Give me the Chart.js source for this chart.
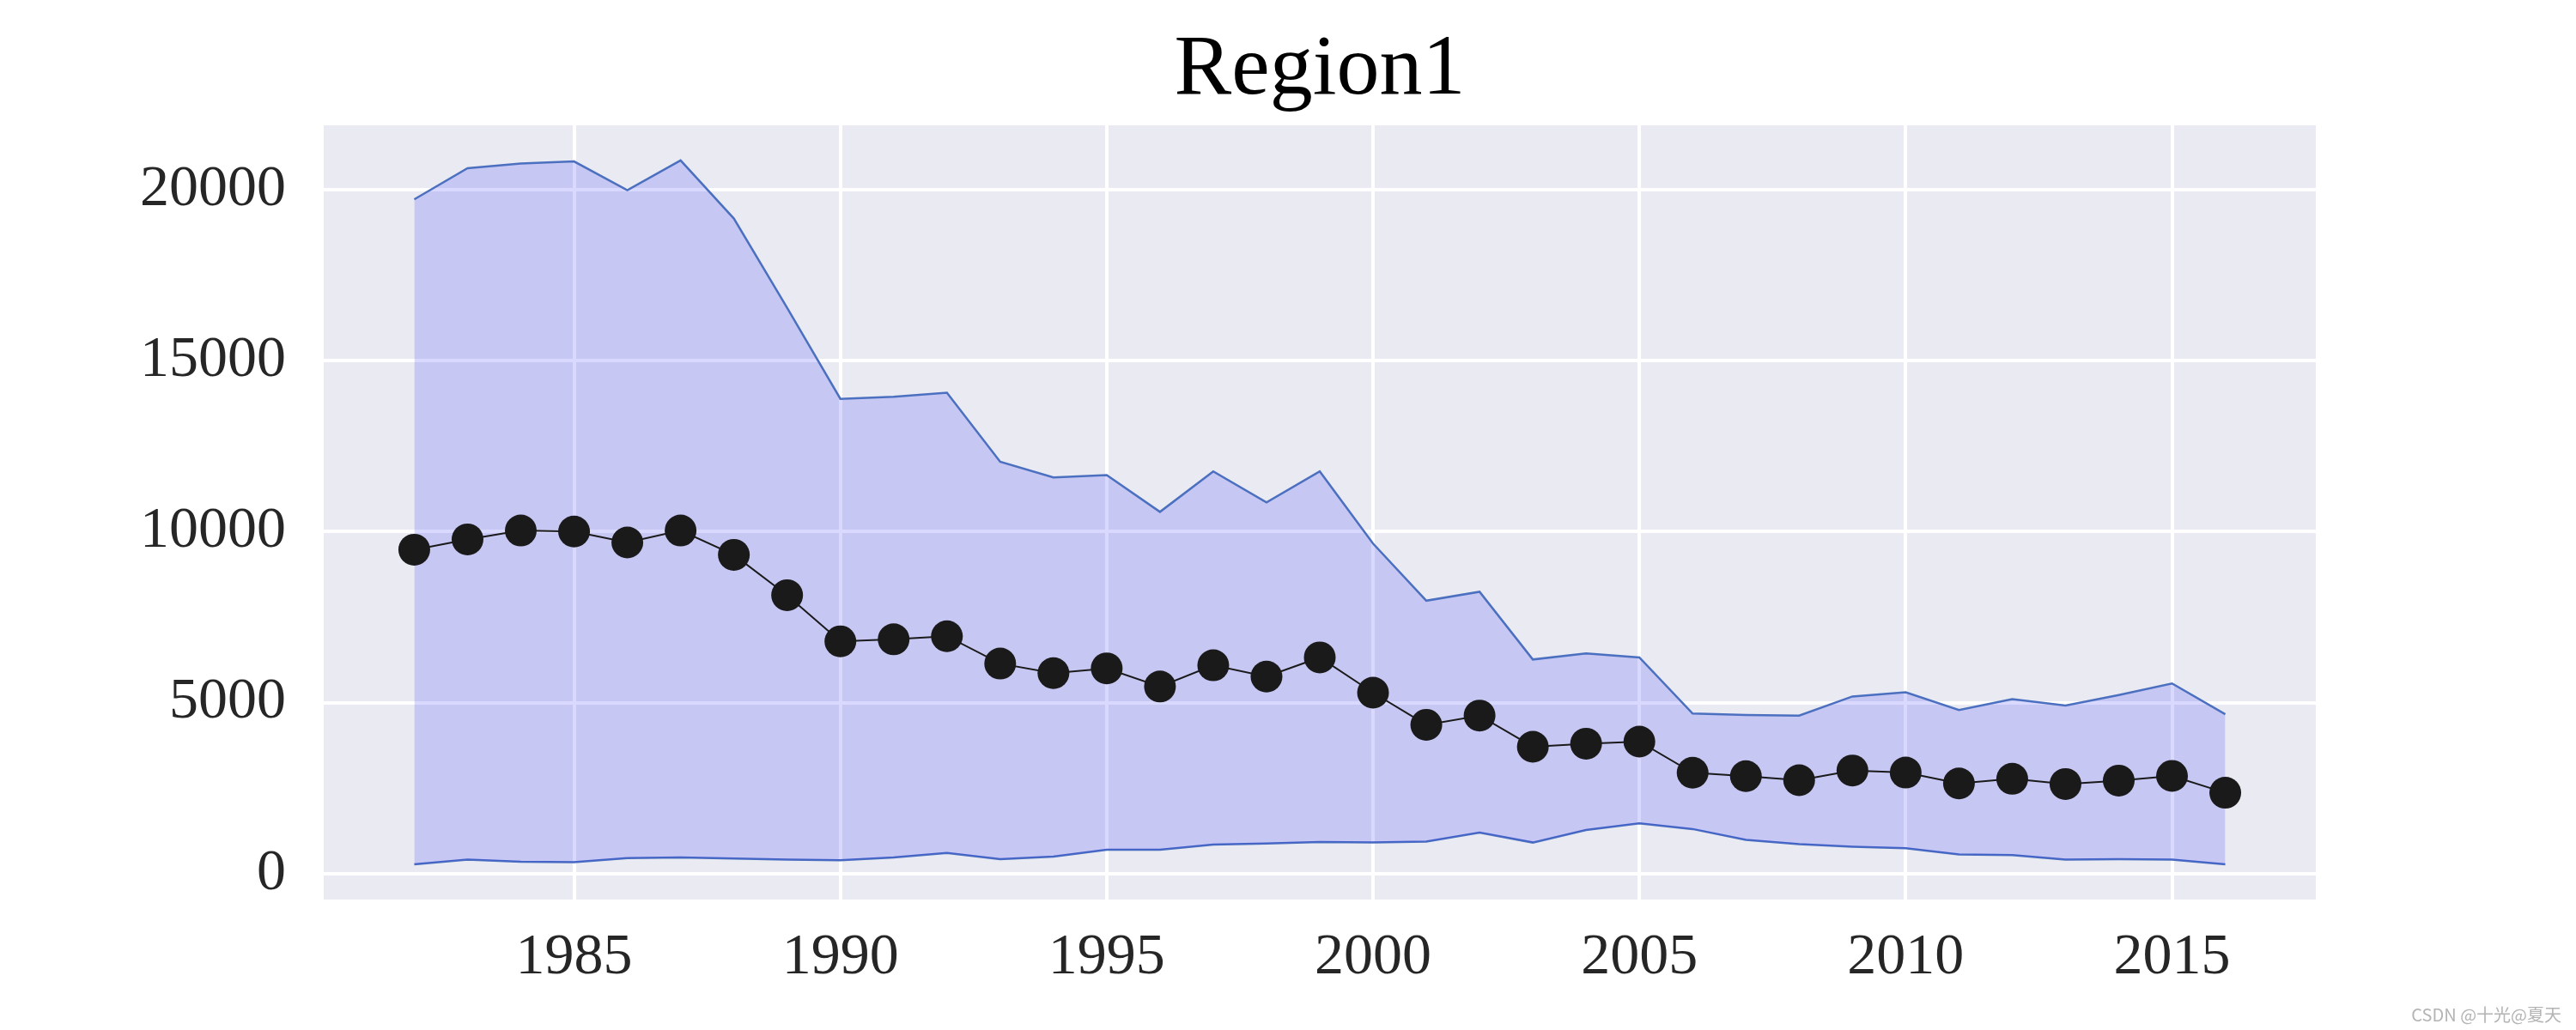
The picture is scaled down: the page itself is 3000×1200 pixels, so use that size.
<!DOCTYPE html>
<html>
<head>
<meta charset="utf-8">
<script src="https://cdn.jsdelivr.net/npm/chart.js@4.4.1/dist/chart.umd.min.js"></script>
<style>
  html, body { margin: 0; padding: 0; background: #ffffff; }
  #wrap { width: 3000px; height: 1200px; }
</style>
</head>
<body>
<div id="wrap"><canvas id="chart" width="3000" height="1200"></canvas></div>
<script>
// Years on the x axis
const years = [1982, 1983, 1984, 1985, 1986, 1987, 1988, 1989, 1990, 1991, 1992, 1993,
  1994, 1995, 1996, 1997, 1998, 1999, 2000, 2001, 2002, 2003, 2004, 2005, 2006, 2007,
  2008, 2009, 2010, 2011, 2012, 2013, 2014, 2015, 2016];

// Mean values (black dots)
const meanValues = [9470, 9770, 10030, 10000, 9680, 10030, 9320, 8140, 6790, 6850, 6940, 6140,
  5860, 6000, 5470, 6090, 5760, 6320, 5290, 4350, 4620, 3710, 3800, 3860, 2950, 2850,
  2730, 3015, 2955, 2636, 2772, 2619, 2721, 2857, 2364];

// Upper edge of the band
const upperValues = [19710, 20620, 20760, 20820, 19980, 20850, 19150, 16540, 13880, 13940, 14060, 12040,
  11580, 11650, 10575, 11760, 10850, 11760, 9650, 7980, 8240, 6260, 6440, 6320, 4680, 4640,
  4620, 5180, 5300, 4785, 5100, 4915, 5220, 5560, 4660];

// Lower edge of the band
const lowerValues = [273, 409, 348, 333, 455, 470, 440, 409, 394, 470, 606, 424,
  500, 697, 697, 848, 879, 924, 909, 939, 1197, 909, 1273, 1470, 1303, 985,
  864, 788, 742, 560, 544, 408, 425, 408, 272];

// Tick labels
const xTicks = [1985, 1990, 1995, 2000, 2005, 2010, 2015];
const yTicks = [0, 5000, 10000, 15000, 20000];

const toPoints = (vals) => vals.map((v, i) => ({ x: years[i], y: v }));

const serif = "'Liberation Serif', 'Times New Roman', serif";
const bandEdge = "#4c70c0";

// Grey plot background, like seaborn darkgrid
const plotBackground = {
  id: "plotBackground",
  beforeDraw(chart) {
    const { ctx, chartArea: a } = chart;
    ctx.save();
    ctx.fillStyle = "#eaeaf2";
    ctx.fillRect(a.left, a.top, a.right - a.left, a.bottom - a.top);
    ctx.restore();
  },
};

// Small watermark in the bottom right corner
const watermark = {
  id: "watermark",
  afterDraw(chart) {
    const ctx = chart.ctx;
    ctx.save();
    ctx.font = "20px 'Noto Sans CJK SC', 'Noto Sans', sans-serif";
    ctx.fillStyle = "#b4b4b4";
    ctx.textAlign = "right";
    ctx.textBaseline = "middle";
    ctx.fillText("CSDN @十光@夏天", 2983, 1182);
    ctx.restore();
  },
};

new Chart(document.getElementById("chart"), {
  type: "line",
  plugins: [plotBackground, watermark],
  data: {
    datasets: [
      {
        data: toPoints(lowerValues),
        borderColor: bandEdge,
        borderWidth: 2.5,
        pointRadius: 0,
        fill: false,
        order: 3,
      },
      {
        data: toPoints(upperValues),
        borderColor: bandEdge,
        borderWidth: 2.5,
        pointRadius: 0,
        backgroundColor: "rgba(0, 0, 255, 0.15)",
        fill: 0,
        order: 2,
      },
      {
        data: toPoints(meanValues),
        borderColor: "#1a1a1a",
        borderWidth: 2,
        pointRadius: 18.5,
        pointBackgroundColor: "#1a1a1a",
        pointBorderColor: "#1a1a1a",
        pointBorderWidth: 0,
        fill: false,
        order: 1,
      },
    ],
  },
  options: {
    responsive: false,
    animation: false,
    devicePixelRatio: 1,
    layout: { padding: { left: 0, right: 303, top: 0, bottom: 0 } },
    plugins: {
      legend: { display: false },
      tooltip: { enabled: false },
      title: {
        display: true,
        fullSize: false,
        text: "Region1",
        color: "#000000",
        font: { family: serif, size: 100, weight: "normal", lineHeight: 1.2 },
        padding: { top: 23, bottom: 3 },
      },
    },
    scales: {
      x: {
        type: "linear",
        min: 1980.3,
        max: 2017.7,
        afterBuildTicks: (scale) => { scale.ticks = xTicks.map((v) => ({ value: v })); },
        afterFit: (scale) => { scale.height = 152; },
        grid: { color: "#ffffff", lineWidth: 4, drawTicks: false },
        border: { display: false },
        ticks: {
          color: "#262626",
          padding: 27,
          maxRotation: 0,
          font: { family: serif, size: 68 },
          callback: (v) => String(v),
        },
      },
      y: {
        min: -757,
        max: 21875,
        afterBuildTicks: (scale) => { scale.ticks = yTicks.map((v) => ({ value: v })); },
        afterFit: (scale) => { scale.width = 377; },
        grid: { color: "#ffffff", lineWidth: 4, drawTicks: false },
        border: { display: false },
        ticks: {
          color: "#262626",
          padding: 44,
          font: { family: serif, size: 68 },
          callback: (v) => String(v),
        },
      },
    },
  },
});
</script>
</body>
</html>
